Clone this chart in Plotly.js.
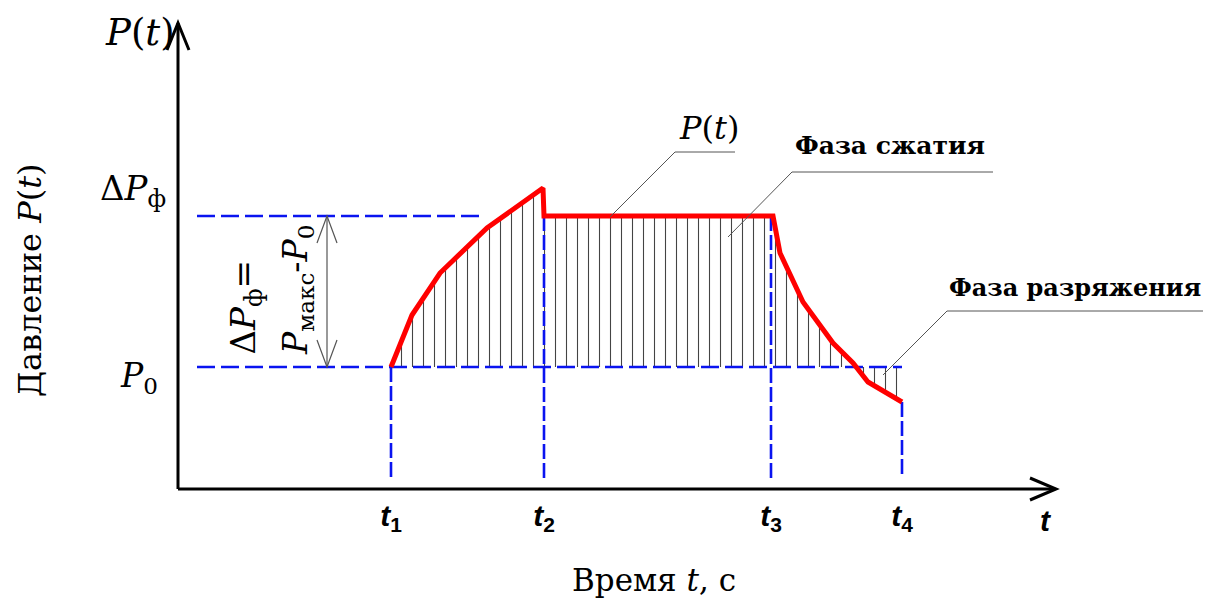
<!DOCTYPE html>
<html>
<head>
<meta charset="utf-8">
<script src="https://cdn.plot.ly/plotly-3.0.1.min.js"></script>
<style>html,body{margin:0;padding:0;background:#fff;}#chart{width:1224px;height:601px;}</style>
</head>
<body>
<div id="chart"></div>
<script>
// ---- data (schematic units; origin of the P(t)/t axes at 0,0) ----
const tTickVals   = [213, 366, 593, 724];
const tTickLabels = ['<b><i>t</i><sub>1</sub></b>', '<b><i>t</i><sub>2</sub></b>', '<b><i>t</i><sub>3</sub></b>', '<b><i>t</i><sub>4</sub></b>'];
const P0  = 122;   // ambient pressure level
const dPf = 273;   // front overpressure level
const curveT = [213, 234, 262, 309, 365, 366, 595, 602, 625, 655, 675, 690, 724];
const curveP = [122, 174, 216, 261, 301, 273, 273, 236, 187, 146, 126, 107, 87];
const baseT  = [213, 724];
const baseP  = [P0, P0];

// ---- layout helpers: convert page pixels to the axis units ----
const OX = 178, OY = 489;
const X = px => px - OX;
const Y = py => OY - py;

const serif = 'DejaVu Serif';
const sans  = 'Liberation Sans';
const blue = '#0a14f0';
const dashH = '18px,6px';
const dashV = '15px,4px';

const traces = [
  {x: baseT, y: baseP, mode: 'lines', line: {width: 0, color: 'rgba(0,0,0,0)'}, hoverinfo: 'skip', showlegend: false},
  {x: curveT, y: curveP, mode: 'lines', line: {width: 0, color: 'rgba(0,0,0,0)'}, fill: 'tonexty',
   fillcolor: 'rgba(0,0,0,0)',
   fillpattern: {shape: '|', size: 11, solidity: 0.1, fgcolor: '#444', bgcolor: 'rgba(0,0,0,0)', fgopacity: 1},
   hoverinfo: 'skip', showlegend: false},
  {x: [X(197), tTickVals[3]], y: [P0, P0], mode: 'lines', line: {color: blue, width: 2.6, dash: dashH}, showlegend: false},
  {x: [X(197), X(485)], y: [dPf, dPf], mode: 'lines', line: {color: blue, width: 2.6, dash: dashH}, showlegend: false},
  {x: [tTickVals[0], tTickVals[0]], y: [P0, Y(478)], mode: 'lines', line: {color: blue, width: 2.6, dash: dashV}, showlegend: false},
  {x: [tTickVals[1], tTickVals[1]], y: [dPf, Y(478)], mode: 'lines', line: {color: blue, width: 2.6, dash: dashV}, showlegend: false},
  {x: [tTickVals[2], tTickVals[2]], y: [dPf, Y(478)], mode: 'lines', line: {color: blue, width: 2.6, dash: dashV}, showlegend: false},
  {x: [tTickVals[3], tTickVals[3]], y: [curveP[curveP.length-1], Y(478)], mode: 'lines', line: {color: blue, width: 2.6, dash: dashV}, showlegend: false},
  {x: curveT, y: curveP, mode: 'lines', line: {color: '#ff0000', width: 5, shape: 'linear'}, showlegend: false}
];

const gray = '#555';
const shapes = [
  {type: 'line', xref: 'x', yref: 'y', x0: 0, y0: 0, x1: X(1055), y1: 0, line: {color: '#000', width: 3}},
  {type: 'line', xref: 'x', yref: 'y', x0: 0, y0: 0, x1: 0, y1: Y(23), line: {color: '#000', width: 3}},
  {type: 'path', xref: 'x', yref: 'y', path: `M ${X(1030)},${Y(478)} L ${X(1056)},${Y(489)} L ${X(1030)},${Y(500)}`, line: {color: '#000', width: 3}},
  {type: 'path', xref: 'x', yref: 'y', path: `M ${X(167)},${Y(50)} L ${X(178)},${Y(23)} L ${X(189)},${Y(50)}`, line: {color: '#000', width: 3}},
  {type: 'line', xref: 'x', yref: 'y', x0: X(327), y0: dPf, x1: X(327), y1: P0, line: {color: gray, width: 1.2}},
  {type: 'path', xref: 'x', yref: 'y', path: `M ${X(317)},${Y(243)} L ${X(327)},${dPf} L ${X(337)},${Y(243)}`, line: {color: gray, width: 1.2}},
  {type: 'path', xref: 'x', yref: 'y', path: `M ${X(317)},${Y(340)} L ${X(327)},${P0} L ${X(337)},${Y(340)}`, line: {color: gray, width: 1.2}},
  {type: 'path', xref: 'x', yref: 'y', path: `M ${X(610)},${Y(217)} L ${X(675)},${Y(152)} L ${X(735)},${Y(152)}`, line: {color: gray, width: 1}},
  {type: 'path', xref: 'x', yref: 'y', path: `M ${X(728)},${Y(237)} L ${X(792)},${Y(172)} L ${X(993)},${Y(172)}`, line: {color: gray, width: 1}},
  {type: 'path', xref: 'x', yref: 'y', path: `M ${X(883)},${Y(375)} L ${X(947)},${Y(311)} L ${X(1203)},${Y(311)}`, line: {color: gray, width: 1}}
];

const ann = (px, py, text, size, extra, fam) => Object.assign({
  x: X(px), y: Y(py), xref: 'x', yref: 'y', text: text, showarrow: false,
  font: {family: fam || serif, size: size, color: '#000'}
}, extra || {});

const annotations = [
  ann(140, 32, '<i>P</i>(<i>t</i>)', 37),
  ann(133, 190, 'Δ<i>P</i><sub>ф</sub>', 34),
  ann(139, 377, '<i>P</i><sub>0</sub>', 33),
  ann(30, 280, 'Давление <i>P</i>(<i>t</i>)', 32, {textangle: -90}),
  ann(654, 580, 'Время <i>t</i>, с', 31),
  ann(709, 128, '<i>P</i>(<i>t</i>)', 32),
  ann(890, 145, '<b>Фаза сжатия</b>', 25),
  ann(1075, 287, '<b>Фаза разряжения</b>', 24),
  ann(245, 357, 'Δ<i>P</i><sub>ф</sub>=', 34, {textangle: -90, yanchor: 'bottom'}),
  ann(297, 357, '<i>P</i><sub>макс</sub>-<i>P</i><sub>0</sub>', 33, {textangle: -90, yanchor: 'bottom'}),
  {x: X(1046), y: Y(520), xref: 'x', yref: 'y', text: '<b><i>t</i></b>', showarrow: false,
   font: {family: sans, size: 30, color: '#000'}}
];

const layout = {
  width: 1224, height: 601,
  margin: {l: 0, r: 0, t: 0, b: 0, pad: 0},
  paper_bgcolor: '#fff', plot_bgcolor: '#fff',
  showlegend: false,
  xaxis: {range: [X(0), X(1224)], showgrid: false, zeroline: false, showline: false,
          ticks: '', tickvals: tTickVals, ticktext: tTickLabels,
          tickfont: {family: sans, size: 30, color: '#000'},
          anchor: 'free', position: (601 - OY) / 601, ticklabelstandoff: 6, fixedrange: true},
  yaxis: {range: [Y(601), Y(0)], visible: false, fixedrange: true},
  shapes: shapes,
  annotations: annotations
};

Plotly.newPlot('chart', traces, layout, {staticPlot: true, displayModeBar: false});
</script>
</body>
</html>
